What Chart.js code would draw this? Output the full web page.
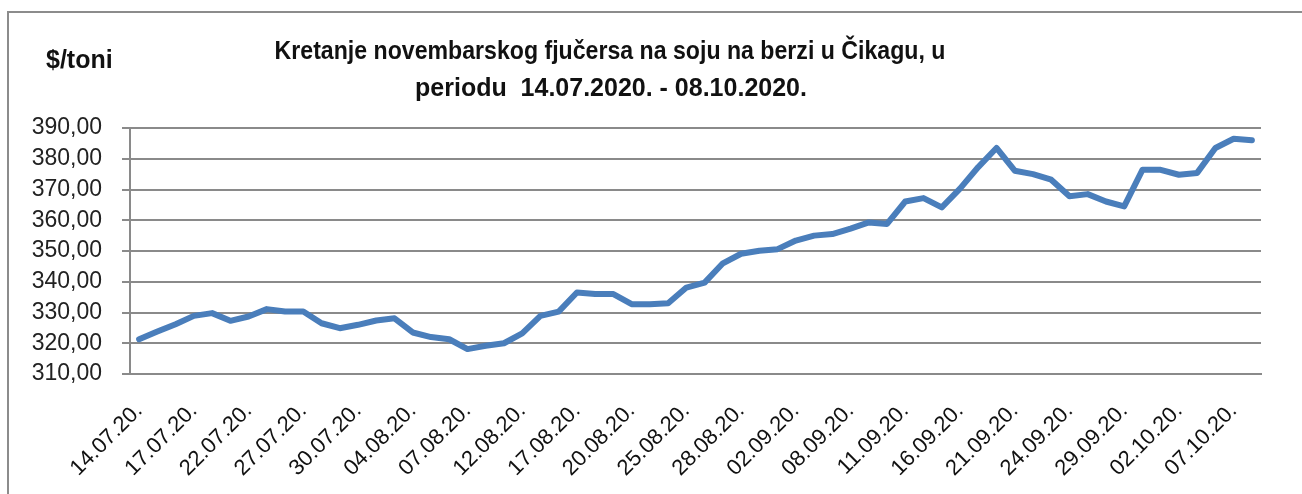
<!DOCTYPE html>
<html>
<head>
<meta charset="utf-8">
<script src="https://cdn.jsdelivr.net/npm/chart.js@4"></script>
<style>
  body { margin: 0; background: #fff; }
  #wrap { position: relative; width: 1302px; height: 494px; overflow: hidden; }
  #frame { position: absolute; left: 7px; top: 11px; width: 1400px; height: 600px;
           border-left: 2px solid #8c8c8c; border-top: 2px solid #8c8c8c; }
  .lbl { position: absolute; font-family: "Liberation Sans", sans-serif;
         font-weight: bold; color: #111; white-space: pre; }
  #unit { left: 46px; top: 45px; font-size: 25px; }
  #t1 { left: 0; width: 1220px; text-align: center; top: 36px; font-size: 25px;
        transform: scaleX(0.925); transform-origin: 610px 0; }
  #t2 { left: 0; width: 1222px; text-align: center; top: 73px; font-size: 25px; }
  canvas { position: absolute; left: 0; top: 0; }
</style>
</head>
<body>
<div id="wrap">
  <div id="frame"></div>
  <canvas id="soyaChart" width="1302" height="494"></canvas>
  <div class="lbl" id="unit">$/toni</div>
  <div class="lbl" id="t1">Kretanje novembarskog fjučersa na soju na berzi u Čikagu, u</div>
  <div class="lbl" id="t2">periodu  14.07.2020. - 08.10.2020.</div>
</div>
<script>
// trgovacki dani 14.07.2020. - 08.10.2020.
var dates = [
    '14.07.20.', '15.07.20.', '16.07.20.', '17.07.20.', '20.07.20.', '21.07.20.', '22.07.20.',
    '23.07.20.', '24.07.20.', '27.07.20.', '28.07.20.', '29.07.20.', '30.07.20.', '31.07.20.',
    '03.08.20.', '04.08.20.', '05.08.20.', '06.08.20.', '07.08.20.', '10.08.20.', '11.08.20.',
    '12.08.20.', '13.08.20.', '14.08.20.', '17.08.20.', '18.08.20.', '19.08.20.', '20.08.20.',
    '21.08.20.', '24.08.20.', '25.08.20.', '26.08.20.', '27.08.20.', '28.08.20.', '31.08.20.',
    '01.09.20.', '02.09.20.', '03.09.20.', '04.09.20.', '08.09.20.', '09.09.20.', '10.09.20.',
    '11.09.20.', '14.09.20.', '15.09.20.', '16.09.20.', '17.09.20.', '18.09.20.', '21.09.20.',
    '22.09.20.', '23.09.20.', '24.09.20.', '25.09.20.', '28.09.20.', '29.09.20.', '30.09.20.',
    '01.10.20.', '02.10.20.', '05.10.20.', '06.10.20.', '07.10.20.', '08.10.20.'
];

// cijena ($/toni)
var prices = [
    321.3, 323.8, 326.2, 328.9, 329.8, 327.3, 328.7, 331.1, 330.3, 330.3,
    326.5, 324.9, 326.0, 327.4, 328.1, 323.5, 322.0, 321.3, 318.1, 319.2,
    320.0, 323.2, 328.9, 330.3, 336.5, 336.0, 336.0, 332.7, 332.7, 333.0,
    338.1, 339.7, 346.0, 349.1, 350.1, 350.6, 353.4, 355.0, 355.5, 357.3,
    359.3, 358.8, 366.1, 367.2, 364.2, 370.3, 377.3, 383.5, 376.1, 375.0,
    373.2, 367.8, 368.5, 366.1, 364.5, 376.4, 376.4, 374.8, 375.4, 383.5,
    386.5, 386.0
];

var yMin = 310;
var yMax = 390;
var yStep = 10;
var labelEvery = 3;

var ctx = document.getElementById('soyaChart');

new Chart(ctx, {
    type: 'line',
    data: {
        labels: dates,
        datasets: [{
            label: 'Soja',
            data: prices,
            borderColor: '#4a7ebb',
            borderWidth: 6,
            borderJoinStyle: 'round',
            borderCapStyle: 'round',
            pointRadius: 0,
            tension: 0,
            fill: false
        }]
    },
    options: {
        responsive: false,
        animation: false,
        layout: { padding: { top: 128, right: 41, left: 0, bottom: 0 } },
        plugins: {
            legend: { display: false },
            tooltip: { enabled: false }
        },
        scales: {
            x: {
                offset: true,
                afterFit: function (scale) { scale.height = 120; },
                grid: { display: false, drawTicks: false },
                border: { display: true, color: '#8a8a8a', width: 2 },
                ticks: {
                    autoSkip: false,
                    minRotation: 45,
                    maxRotation: 45,
                    padding: 24,
                    color: '#111',
                    font: { family: 'Liberation Sans', size: 22 },
                    callback: function (value, index) {
                        return index % labelEvery === 0 ? this.getLabelForValue(value) : '';
                    }
                }
            },
            y: {
                min: yMin,
                max: yMax,
                afterFit: function (scale) { scale.width = 130; },
                grid: { color: '#8a8a8a', lineWidth: 2, tickLength: 8 },
                border: { display: true, color: '#8a8a8a', width: 2 },
                ticks: {
                    stepSize: yStep,
                    padding: 20,
                    color: '#222',
                    font: { family: 'Liberation Sans', size: 23 },
                    callback: function (value) {
                        return value.toFixed(2).replace('.', ',');
                    }
                }
            }
        }
    }
});
</script>
</body>
</html>
